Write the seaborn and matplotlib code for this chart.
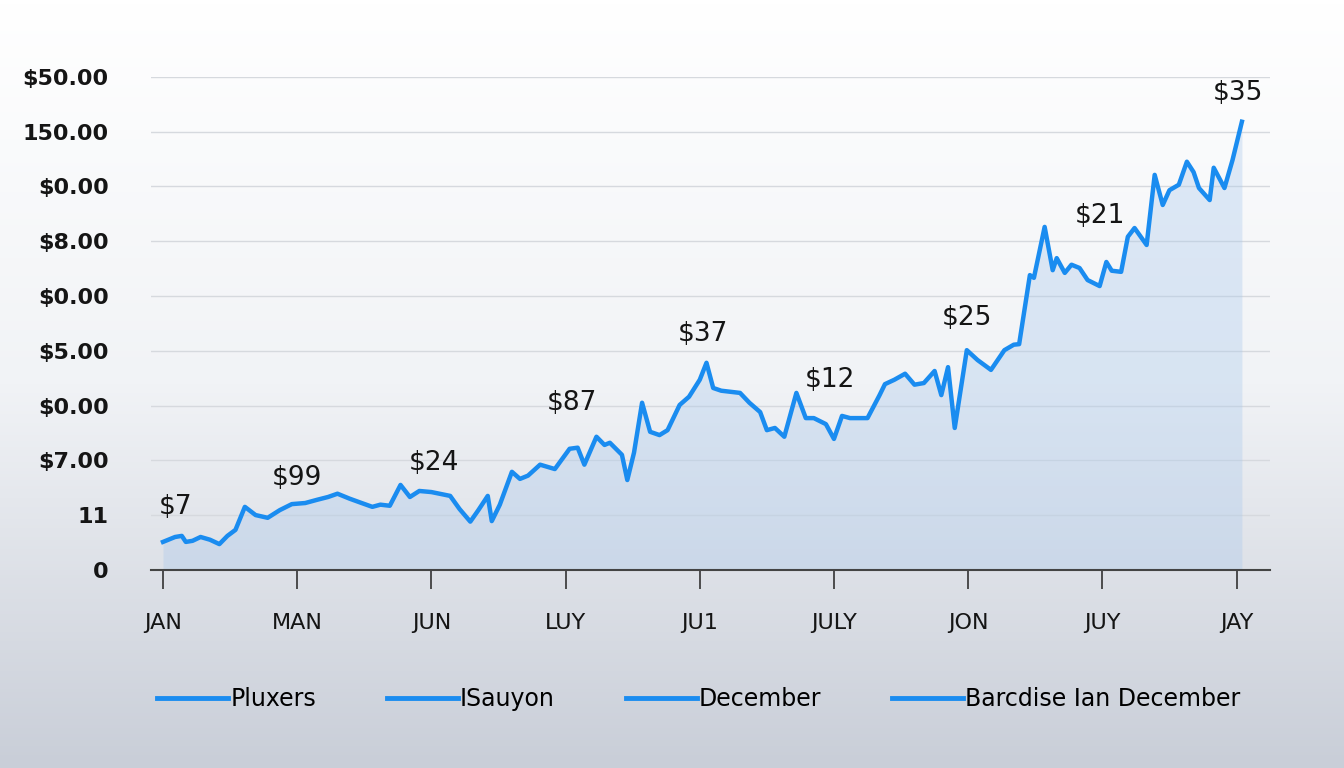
import matplotlib
matplotlib.use("Agg")
import matplotlib.pyplot as plt
import numpy as np
import pandas as pd
import seaborn as sns
from matplotlib.lines import Line2D

# Series (x in month-tick units, y in grid steps)
x_pos = [0, 0.09, 0.14, 0.17, 0.22, 0.28, 0.35, 0.42, 0.48, 0.54, 0.61, 0.69, 0.78, 0.87,
         0.96, 1.06, 1.15, 1.23, 1.30, 1.39, 1.48, 1.56, 1.62, 1.69, 1.77, 1.84, 1.91, 2.00,
         2.14, 2.21, 2.29, 2.35, 2.42, 2.45, 2.51, 2.60, 2.66, 2.72, 2.81, 2.92, 3.03, 3.09,
         3.14, 3.23, 3.29, 3.33, 3.42, 3.46, 3.51, 3.57, 3.63, 3.70, 3.76, 3.85, 3.92, 4.00,
         4.05, 4.10, 4.16, 4.30, 4.37, 4.45, 4.50, 4.56, 4.63, 4.72, 4.79, 4.85, 4.94, 5.00,
         5.06, 5.12, 5.25, 5.34, 5.38, 5.45, 5.53, 5.60, 5.67, 5.75, 5.80, 5.85, 5.90, 5.99,
         6.07, 6.17, 6.27, 6.34, 6.38, 6.46, 6.49, 6.57, 6.63, 6.66, 6.72, 6.77, 6.83, 6.89,
         6.98, 7.03, 7.07, 7.14, 7.19, 7.24, 7.33, 7.39, 7.45, 7.50, 7.57, 7.63, 7.68, 7.72,
         7.80, 7.83, 7.91, 7.97, 8.04]
values = [0.51, 0.60, 0.62, 0.51, 0.53, 0.60, 0.55, 0.47, 0.62, 0.73, 1.15, 1.00, 0.95, 1.09,
          1.20, 1.22, 1.28, 1.33, 1.39, 1.30, 1.22, 1.15, 1.19, 1.17, 1.55, 1.33, 1.44, 1.42,
          1.35, 1.11, 0.88, 1.09, 1.35, 0.89, 1.19, 1.79, 1.66, 1.72, 1.92, 1.84, 2.21, 2.23,
          1.92, 2.43, 2.28, 2.32, 2.10, 1.64, 2.14, 3.05, 2.52, 2.46, 2.55, 3.01, 3.16, 3.47,
          3.78, 3.32, 3.27, 3.23, 3.05, 2.88, 2.55, 2.59, 2.43, 3.23, 2.77, 2.77, 2.66, 2.39,
          2.81, 2.77, 2.77, 3.19, 3.39, 3.47, 3.58, 3.38, 3.41, 3.63, 3.19, 3.70, 2.59, 4.01,
          3.83, 3.65, 4.01, 4.11, 4.12, 5.38, 5.33, 6.26, 5.47, 5.69, 5.42, 5.57, 5.51, 5.29,
          5.18, 5.62, 5.46, 5.44, 6.08, 6.24, 5.93, 7.21, 6.66, 6.93, 7.03, 7.45, 7.26, 6.97,
          6.75, 7.34, 6.97, 7.48, 8.18]

note_x = [0.09, 1.0, 2.02, 3.05, 4.02, 4.97, 5.99, 6.98, 8.01]
note_y = [1.15, 1.68, 1.95, 3.05, 4.31, 3.47, 4.60, 6.46, 8.70]
note_text = ["$7", "$99", "$24", "$87", "$37", "$12", "$25", "$21", "$35"]

x_labels = ["JAN", "MAN", "JUN", "LUY", "JU1", "JULY", "JON", "JUY", "JAY"]
y_labels = ["0", "11", "$7.00", "$0.00", "$5.00", "$0.00", "$8.00", "$0.00", "150.00", "$50.00"]
legend_labels = ["Pluxers", "ISauyon", "December", "Barcdise Ian December"]

BLUE = "#1a8cf0"
TEXT = "#151515"
plt.rcParams["font.family"] = "DejaVu Sans"

fig = plt.figure(figsize=(13.44, 7.68), dpi=100)

# background gradient
bg = fig.add_axes([0, 0, 1, 1], zorder=-10)
grad = np.linspace(0, 1, 256).reshape(-1, 1)
bg.imshow(grad, aspect="auto", cmap=matplotlib.colors.LinearSegmentedColormap.from_list(
    "bg", ["#ffffff", "#f1f3f6", "#c9ced8"]), extent=[0, 1, 0, 1])
bg.axis("off")

ax = fig.add_axes([0.112, 0.258, 0.833, 0.642])
ax.patch.set_alpha(0)

df = pd.DataFrame({"x": x_pos, "y": values})
ax.fill_between(df["x"], df["y"], 0, color="#a9c8ec", alpha=0.35, linewidth=0)
sns.lineplot(data=df, x="x", y="y", ax=ax, color=BLUE, linewidth=3.2)

for tx, ty, t in zip(note_x, note_y, note_text):
    ax.text(tx, ty, t, ha="center", va="center", fontsize=19, color=TEXT, fontweight="medium")

ax.set_xlim(-0.093, 8.25)
ax.set_ylim(0, 9)
ax.set_yticks(range(len(y_labels)))
ax.set_yticklabels(y_labels, fontsize=16, color=TEXT, fontweight="bold")
ax.set_xticks(range(len(x_labels)))
ax.set_xticklabels(x_labels, fontsize=16, color=TEXT)
ax.tick_params(axis="y", length=0, pad=30)
ax.tick_params(axis="x", length=14, width=1.2, color="#333333", pad=17, direction="out")
ax.grid(axis="y", color="#d6d9de", linewidth=1)
ax.set_axisbelow(True)
ax.set_xlabel("")
ax.set_ylabel("")
for s in ["top", "right", "left"]:
    ax.spines[s].set_visible(False)
ax.spines["bottom"].set_color("#444444")
ax.spines["bottom"].set_linewidth(1.5)

handles = [Line2D([0], [0], color=BLUE, linewidth=3.5) for _ in legend_labels]
fig.legend(handles, legend_labels, loc="center", bbox_to_anchor=(0.52, 0.09), ncol=4,
           frameon=False, handlelength=3.0, handletextpad=0.1, columnspacing=3.0,
           prop={"size": 17, "weight": "medium"})

fig.savefig("out.png", dpi=100)
